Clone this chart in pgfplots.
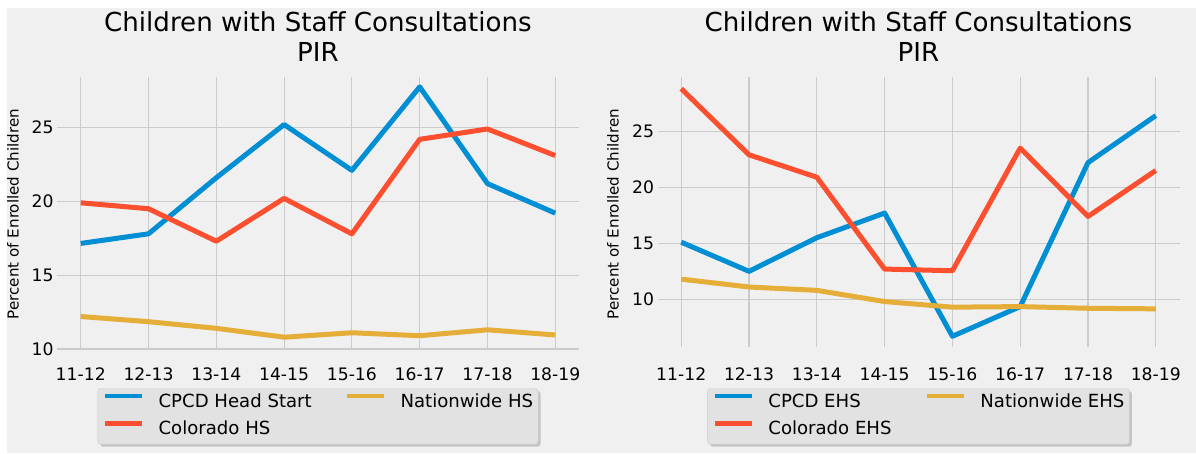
\documentclass[border=0pt]{standalone}
\usepackage{pgfplots}
\pgfplotsset{compat=1.18}
\usepackage{fontspec}
\setmainfont{DejaVu Sans}
\usetikzlibrary{shadows}

\definecolor{cblue}{HTML}{008FD5}
\definecolor{cred}{HTML}{FC4F30}
\definecolor{cyellow}{HTML}{E5AE38}
\definecolor{bg}{HTML}{F0F0F0}
\definecolor{gridc}{HTML}{CBCBCB}
\definecolor{legbg}{HTML}{E2E2E2}

% fivethirtyeight-like look
\pgfplotsset{
  pir/.style={
    scale only axis, width=522pt, height=269.4pt,
    anchor=south west,
    xmin=-0.35, xmax=7.35,
    xtick={0,...,7},
    xticklabels={11-12,12-13,13-14,14-15,15-16,16-17,17-18,18-19},
    ytick={10,15,20,25},
    axis line style={draw=none},
    major tick length=0pt,
    grid=major,
    major grid style={gridc, line width=1.2pt},
    tick label style={font=\fontsize{17.2}{20}\selectfont},
    /pgf/number format/assume math mode=true,
    xticklabel shift=17.6pt,
    title style={at={(0.5,1)}, anchor=south, inner sep=0pt, yshift=9.6pt,
      align=center, font=\fontsize{26.1}{30.4}\selectfont},
    legend columns=2,
    legend cell align=left,
    legend image code/.code={\draw[#1, line width=4.5pt,
        /tikz/every shadow/.style={opacity=0}] (0pt,6.6pt) -- (37pt,6.6pt);},
    legend style={at={(0.5,0)}, anchor=north, yshift=-41.6pt,
      fill=legbg, draw=gridc, rounded corners=3pt,
      drop shadow={shadow xshift=2.5pt, shadow yshift=-2.5pt, fill=black!40},
      font=\fontsize{18.1}{21}\selectfont,
      inner xsep=5pt, inner ysep=5pt, row sep=9.5pt,
      nodes={inner xsep=0pt, inner ysep=0pt, text height=13.8pt, text depth=4.3pt},
      /tikz/every odd column/.style={column sep=14.3pt},
      /tikz/every even column/.style={column sep=33pt}},
    every axis plot/.append style={line width=5pt, line join=round},
  },
}

\begin{document}
\begin{tikzpicture}
\fill[white] (0pt,0pt) rectangle (1196pt,453pt);
\fill[bg] (7pt,0pt) rectangle (1196pt,445pt);

\begin{axis}[pir, at={(57pt,103.7pt)}, height=272pt, ymin=9.98, ymax=28.4,
  xticklabel shift=15pt,
  legend style={yshift=2.6pt},
  title={Children with Staff Consultations\\PIR},
  legend entries={CPCD Head Start, Nationwide HS, Colorado HS}]
\addlegendimage{cblue}
\addlegendimage{cyellow}
\addlegendimage{cred}
\addplot[cblue, forget plot] coordinates {
  (0,17.15) (1,17.8) (2,21.6) (3,25.2) (4,22.1) (5,27.75) (6,21.2) (7,19.2)};
\addplot[cred, forget plot] coordinates {
  (0,19.9) (1,19.5) (2,17.3) (3,20.2) (4,17.8) (5,24.2) (6,24.9) (7,23.1)};
\addplot[cyellow, forget plot] coordinates {
  (0,12.2) (1,11.85) (2,11.4) (3,10.8) (4,11.1) (5,10.9) (6,11.3) (7,10.95)};
\end{axis}

\begin{axis}[pir, at={(657.5pt,106.3pt)}, ymin=5.77, ymax=29.82,
  title={Children with Staff Consultations\\PIR},
  legend entries={CPCD EHS, Nationwide EHS, Colorado EHS}]
\addlegendimage{cblue}
\addlegendimage{cyellow}
\addlegendimage{cred}
\addplot[cblue, forget plot] coordinates {
  (0,15.1) (1,12.5) (2,15.5) (3,17.7) (4,6.7) (5,9.35) (6,22.2) (7,26.4)};
\addplot[cred, forget plot] coordinates {
  (0,28.8) (1,22.9) (2,20.9) (3,12.7) (4,12.55) (5,23.5) (6,17.4) (7,21.5)};
\addplot[cyellow, forget plot] coordinates {
  (0,11.8) (1,11.1) (2,10.8) (3,9.8) (4,9.3) (5,9.35) (6,9.2) (7,9.15)};
\end{axis}

\node[rotate=90, anchor=base, font=\fontsize{15.1}{18}\selectfont] at (18.5pt,239pt) {Percent of Enrolled Children};
\node[rotate=90, anchor=base, font=\fontsize{15.1}{18}\selectfont] at (618.5pt,239pt) {Percent of Enrolled Children};
\end{tikzpicture}
\end{document}
